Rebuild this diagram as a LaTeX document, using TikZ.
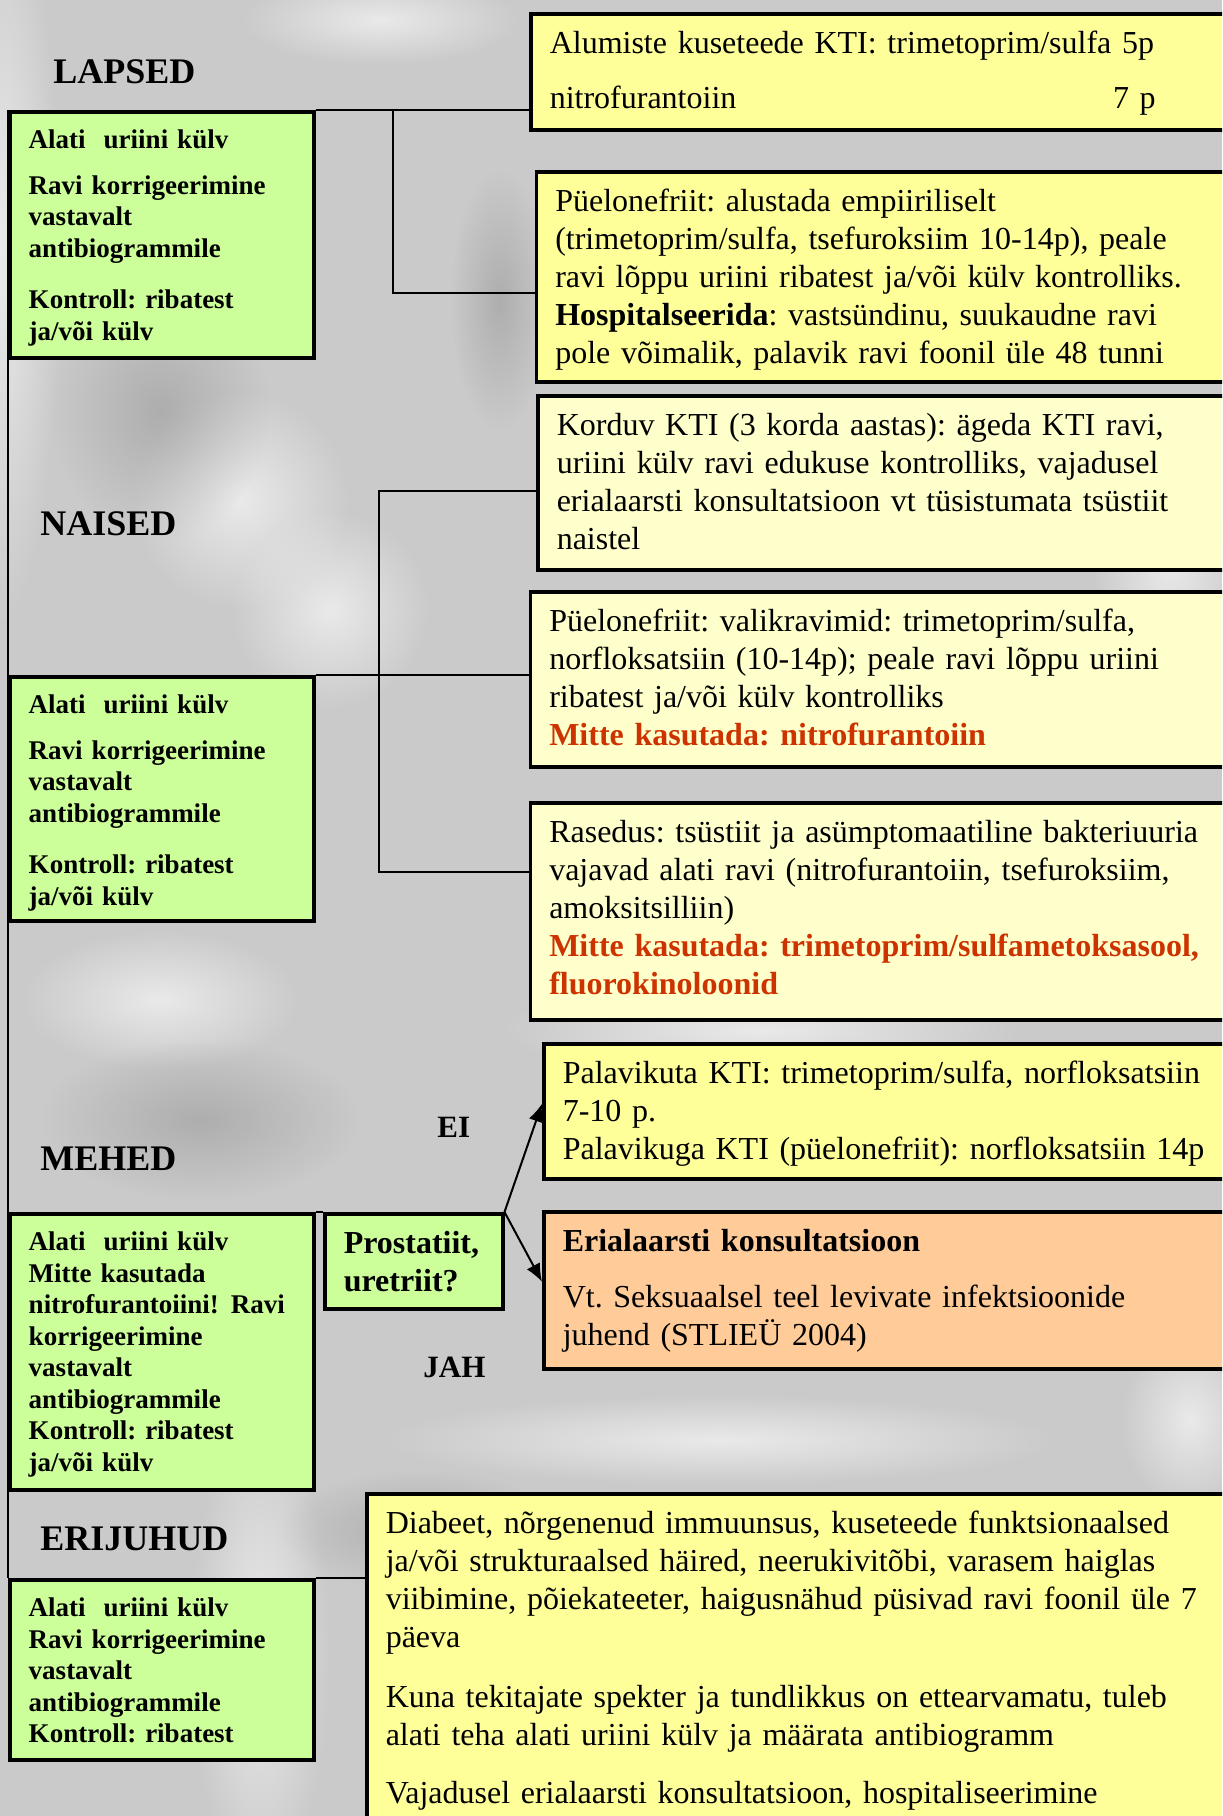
\documentclass[tikz,border=0pt]{standalone}
\usepackage{fontspec}
\setmainfont{Liberation Serif}
\frenchspacing
\usetikzlibrary{arrows.meta,fadings}

\definecolor{bggray}{HTML}{CACACA}
\definecolor{boxgreen}{HTML}{CCFF99}
\definecolor{boxyellow}{HTML}{FFFF99}
\definecolor{boxpale}{HTML}{FFFFCC}
\definecolor{boxorange}{HTML}{FFCC99}
\definecolor{warnred}{HTML}{CC3300}

\tikzfading[name=softspot, inner color=transparent!0, outer color=transparent!100]

\tikzset{
  box/.style={draw=black, line width=1.75pt, anchor=north west, align=left,
    inner xsep=9.5pt, inner ysep=7pt},
  groupbox/.style={box, fill=boxgreen, text width=133pt, text height=11.5pt,
    font=\fontsize{13.5}{15.75}\selectfont\bfseries},
  infobox/.style={box, text height=13pt, font=\fontsize{16}{19}\selectfont},
  heading/.style={anchor=base west, inner sep=0pt,
    font=\fontsize{18}{20}\selectfont\bfseries},
  answer/.style={anchor=base west, inner sep=0pt,
    font=\fontsize{15.5}{18}\selectfont\bfseries},
  link/.style={line width=1pt},
  pick/.style={line width=1pt, -{Latex[length=9pt,width=7.5pt]}},
  blob/.style={fill=white, opacity=0.6, path fading=softspot},
  dimblob/.style={fill=black!40!bggray, opacity=0.35, path fading=softspot},
}
\newcommand\warn[1]{\textcolor{warnred}{\bfseries #1}}

\begin{document}
\begin{tikzpicture}[x=0.5pt, y=-0.5pt]

% page and background
\useasboundingbox (0,0) rectangle (1222,1816);
\clip (0,0) rectangle (1222,1816);
\fill[bggray] (0,0) rectangle (1222,1816);
\fill[blob] (0,250) ellipse [x radius=60, y radius=380];
\fill[blob] (240,500) ellipse [x radius=110, y radius=110];
\fill[blob] (330,610) ellipse [x radius=100, y radius=100];
\fill[blob] (260,1650) ellipse [x radius=70, y radius=240];
\fill[blob] (760,1030) ellipse [x radius=260, y radius=50];
\fill[blob] (1170,560) ellipse [x radius=80, y radius=130];
\fill[blob] (720,1440) ellipse [x radius=340, y radius=45];
\fill[blob] (380,20) ellipse [x radius=140, y radius=45];
\fill[blob] (160,1000) ellipse [x radius=140, y radius=70];
\fill[blob] (1190,1420) ellipse [x radius=70, y radius=90];
\fill[dimblob] (500,300) ellipse [x radius=50, y radius=130];
\fill[dimblob] (160,410) ellipse [x radius=110, y radius=130];
\fill[dimblob] (420,1530) ellipse [x radius=140, y radius=60];
\fill[dimblob] (200,1120) ellipse [x radius=160, y radius=80];

% titles
\node[heading] (kidstitle) at (53,83) {LAPSED};
\node[heading] (womentitle) at (40,535) {NAISED};
\node[heading] (mentitle) at (40,1170) {MEHED};
\node[heading] (specialtitle) at (40,1550) {ERIJUHUD};

% green group boxes
\node[groupbox, text depth=97.5pt] (kidsbox) at (8,110)
  {Alati\ \ uriini külv\\[7pt] Ravi korrigeerimine\\ vastavalt\\ antibiogrammile\\[10pt]
   Kontroll: ribatest\\ ja/või külv};
\node[groupbox, text depth=96.5pt] (womenbox) at (8,675)
  {Alati\ \ uriini külv\\[7pt] Ravi korrigeerimine\\ vastavalt\\ antibiogrammile\\[10pt]
   Kontroll: ribatest\\ ja/või külv};
\node[groupbox, text depth=112.5pt] (menbox) at (8,1212)
  {Alati\ \ uriini külv\\ Mitte kasutada\\ nitrofurantoiini!\hspace{6pt}Ravi\\ korrigeerimine\\
   vastavalt\\ antibiogrammile\\ Kontroll: ribatest\\ ja/või külv};
\node[groupbox, text depth=64.5pt] (specialbox) at (8,1578)
  {Alati\ \ uriini külv\\ Ravi korrigeerimine\\ vastavalt\\ antibiogrammile\\ Kontroll: ribatest};

% children
\node[infobox, fill=boxyellow, text width=366pt, text depth=31pt] (kidslower) at (529,12)
  {Alumiste kuseteede KTI: trimetoprim/sulfa 5p\\[8.5pt]
   \makebox[303pt][l]{nitrofurantoiin\hfill 7 p}};
\node[infobox, fill=boxyellow, text width=363pt, text depth=78pt] (kidspyelo) at (534.5,170)
  {Püelonefriit: alustada empiiriliselt\\
   (trimetoprim/sulfa, tsefuroksiim 10-14p), peale\\
   ravi lõppu uriini ribatest ja/või külv kontrolliks.\\
   \textbf{Hospitalseerida}: vastsündinu, suukaudne ravi\\
   pole võimalik, palavik ravi foonil üle 48 tunni};

% women
\node[infobox, fill=boxpale, text width=363pt, text depth=60pt] (womenrecur) at (536,394)
  {Korduv KTI (3 korda aastas): ägeda KTI ravi,\\
   uriini külv ravi edukuse kontrolliks, vajadusel\\
   erialaarsti konsultatsioon vt tüsistumata tsüstiit\\
   naistel};
\node[infobox, fill=boxpale, text width=366pt, text depth=60.5pt] (womenpyelo) at (528.5,590)
  {Püelonefriit: valikravimid: trimetoprim/sulfa,\\
   norfloksatsiin (10-14p); peale ravi lõppu uriini\\
   ribatest ja/või külv kontrolliks\\
   \warn{Mitte kasutada: nitrofurantoiin}};
\node[infobox, fill=boxpale, text width=366pt, text depth=81.5pt] (womenpreg) at (528.5,801)
  {Rasedus: tsüstiit ja asümptomaatiline bakteriuuria\\
   vajavad alati ravi (nitrofurantoiin, tsefuroksiim,\\
   amoksitsilliin)\\
   \warn{Mitte kasutada: trimetoprim/sulfametoksasool,}\\
   \warn{fluorokinoloonid}};

% men
\node[box, fill=boxgreen, text width=70pt, text height=13pt, text depth=20.5pt,
  font=\fontsize{16}{19}\selectfont\bfseries] (menquestion) at (323,1212)
  {Prostatiit,\\ uretriit?};
\node[infobox, fill=boxyellow, text width=360pt, text depth=40.5pt] (menfever) at (542,1042)
  {Palavikuta KTI: trimetoprim/sulfa, norfloksatsiin\\
   7-10 p.\\
   Palavikuga KTI (püelonefriit): norfloksatsiin 14p};
\node[infobox, fill=boxorange, text width=360pt, text depth=51.5pt] (menspecialist) at (542,1210)
  {\textbf{Erialaarsti konsultatsioon}\\[9pt]
   Vt. Seksuaalsel teel levivate infektsioonide\\
   juhend (STLIEÜ 2004)};
\node[answer] (notag) at (437,1137) {EI};
\node[answer] (yestag) at (423,1377) {JAH};

% special cases
\node[infobox, fill=boxyellow, text width=450pt, text depth=200pt] (specialtext) at (365,1492)
  {Diabeet, nõrgenenud immuunsus, kuseteede funktsionaalsed\\
   ja/või strukturaalsed häired, neerukivitõbi, varasem haiglas\\
   viibimine, põiekateeter, haigusnähud püsivad ravi foonil üle 7\\
   päeva\\[11pt]
   Kuna tekitajate spekter ja tundlikkus on ettearvamatu, tuleb\\
   alati teha alati uriini külv ja määrata antibiogramm\\[10pt]
   Vajadusel erialaarsti konsultatsioon, hospitaliseerimine};

% connectors
\draw[link] (kidsbox.north west) -- (specialbox.north west);

\coordinate (kidsfork) at (393,110);
\coordinate (kidsturn) at (393,293);
\draw[link] (kidsbox.north east) -- (kidsbox.north east -| kidslower.west);
\draw[link] (kidsfork) -- (kidsturn) -- (kidsturn -| kidspyelo.west);

\coordinate (womentop) at (379,491);
\coordinate (womenbottom) at (379,872);
\draw[link] (womentop -| womenrecur.west) -- (womentop) -- (womenbottom)
  -- (womenbottom -| womenpreg.west);
\draw[link] (womenbox.north east) -- (womenbox.north east -| womenpyelo.west);

\draw[link] (menbox.north east) -- (menquestion.north west);
\draw[pick] (menquestion.north east) -- ([yshift=3.75pt]menfever.west);
\draw[pick] (menquestion.north east) -- ([yshift=4.25pt]menspecialist.west);

\draw[link] (specialbox.north east) -- (specialbox.north east -| specialtext.west);

\end{tikzpicture}
\end{document}
